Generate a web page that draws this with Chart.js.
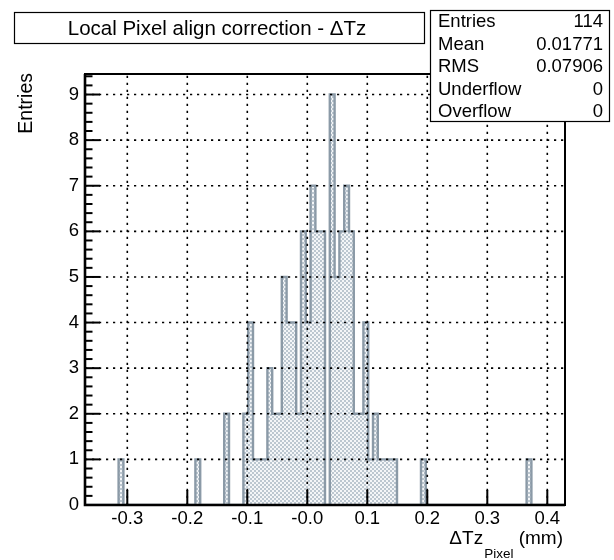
<!DOCTYPE html>
<html><head><meta charset="utf-8">
<script src="https://cdn.jsdelivr.net/npm/chart.js@4/dist/chart.umd.min.js"></script>
<style>html,body{margin:0;padding:0;background:#fff;} canvas{display:block;}</style>
</head><body>
<canvas id="c" width="614" height="560"></canvas>
<script>
// ---- data ----
const xRange = [-0.3705, 0.4295];
const binWidth = 0.008;
const binCounts = [
  0,0,0,0,0,0,0,1,0,0,
  0,0,0,0,0,0,0,0,0,0,
  0,0,0,1,0,0,0,0,0,2,
  0,0,0,2,4,1,1,1,3,2,
  2,5,4,4,2,6,4,7,6,6,
  0,9,5,6,7,6,2,2,4,1,
  2,1,1,1,1,0,0,0,0,0,
  1,0,0,0,0,0,0,0,0,0,
  0,0,0,0,0,0,0,0,0,0,
  0,0,1,0,0,0,0,0,0,0
];
const xTickValues = [-0.3, -0.2, -0.1, 0, 0.1, 0.2, 0.3, 0.4];
const xTickLabels = ['-0.3', '-0.2', '-0.1', '-0.0', '0.1', '0.2', '0.3', '0.4'];
const yTickValues = [0, 1, 2, 3, 4, 5, 6, 7, 8, 9];
const yTickLabels = ['0', '1', '2', '3', '4', '5', '6', '7', '8', '9'];
const yMax = 9.45;
const statsLabels = ['Entries', 'Mean', 'RMS', 'Underflow', 'Overflow'];
const statsValues = ['114', '0.01771', '0.07906', '0', '0'];
const titleText = 'Local Pixel align correction - \u0394Tz';
const xTitleMain = '\u0394Tz';
const xTitleSub = 'Pixel';
const xTitleUnit = ' (mm)';
const yTitle = 'Entries';

// ---- build histogram step points from bins ----
const histPoints = binCounts.map((c, k) => ({ x: xRange[0] + k * binWidth, y: c }));
histPoints.push({ x: xRange[0] + binCounts.length * binWidth, y: 0 });

// checker fill pattern
function makePattern() {
  const p = document.createElement('canvas');
  p.width = 4; p.height = 4;
  const g = p.getContext('2d');
  g.fillStyle = '#f4f6f8'; g.fillRect(0, 0, 4, 4);
  g.fillStyle = '#bcc7d0';
  g.fillRect(0, 0, 2, 2); g.fillRect(2, 2, 2, 2);
  return g.createPattern(p, 'repeat');
}

const FONT = 'Liberation Sans, Arial, Helvetica, sans-serif';

const rootDecor = {
  id: 'rootDecor',
  afterDatasetsDraw(chart) {
    const { ctx, chartArea: a, scales: { x, y } } = chart;
    ctx.save();
    // dotted grid
    ctx.strokeStyle = '#000';
    ctx.lineWidth = 1.6;
    ctx.setLineDash([2.2, 4.8]);
    xTickValues.forEach(v => {
      const px = x.getPixelForValue(v);
      ctx.beginPath(); ctx.moveTo(px, a.bottom); ctx.lineTo(px, a.top); ctx.stroke();
    });
    yTickValues.forEach(v => {
      if (v === 0) return;
      const py = y.getPixelForValue(v);
      ctx.beginPath(); ctx.moveTo(a.left, py); ctx.lineTo(a.right, py); ctx.stroke();
    });
    ctx.setLineDash([]);
    // tick marks (inside)
    ctx.lineWidth = 2;
    for (let v = 0; v <= yMax + 1e-9; v += 0.2) {
      const py = y.getPixelForValue(v);
      const major = Math.abs(v - Math.round(v)) < 1e-6;
      ctx.beginPath(); ctx.moveTo(a.left, py); ctx.lineTo(a.left + (major ? 15 : 7.5), py); ctx.stroke();
    }
    xTickValues.forEach(v => {
      const px = x.getPixelForValue(v);
      ctx.beginPath(); ctx.moveTo(px, a.bottom); ctx.lineTo(px, a.bottom - 15); ctx.stroke();
    });
    // frame
    ctx.lineWidth = 2;
    ctx.strokeRect(a.left, a.top, a.right - a.left, a.bottom - a.top);
    ctx.lineWidth = 2.6;
    ctx.beginPath();
    ctx.moveTo(a.left, a.top); ctx.lineTo(a.left, a.bottom); ctx.lineTo(a.right, a.bottom);
    ctx.stroke();

    // title box
    ctx.fillStyle = '#fff';
    ctx.fillRect(14.5, 12.5, 410, 31);
    ctx.lineWidth = 1.2;
    ctx.strokeStyle = '#000';
    ctx.strokeRect(14.5, 12.5, 410, 31);
    ctx.fillStyle = '#000';
    ctx.font = '20.5px ' + FONT;
    ctx.textAlign = 'center';
    ctx.textBaseline = 'alphabetic';
    ctx.fillText(titleText, 217, 35);

    // stats box
    ctx.fillStyle = '#fff';
    ctx.fillRect(430.5, 10.5, 179, 111);
    ctx.strokeRect(430.5, 10.5, 179, 111);
    ctx.fillStyle = '#000';
    ctx.font = '18.5px ' + FONT;
    statsLabels.forEach((lab, i) => {
      const by = 27 + 22.5 * i;
      ctx.textAlign = 'left';
      ctx.fillText(lab, 438, by);
      ctx.textAlign = 'right';
      ctx.fillText(statsValues[i], 603, by);
    });

    // y title
    ctx.save();
    ctx.translate(27, 73);
    ctx.rotate(-Math.PI / 2);
    ctx.textAlign = 'right';
    ctx.textBaseline = 'middle';
    ctx.font = '19.5px ' + FONT;
    ctx.fillText(yTitle, 0, 0);
    ctx.restore();

    // x title with subscript
    ctx.textAlign = 'left';
    ctx.textBaseline = 'alphabetic';
    ctx.font = '19px ' + FONT;
    const w1 = ctx.measureText(xTitleMain).width;
    const w3 = ctx.measureText(xTitleUnit).width;
    ctx.font = '13.5px ' + FONT;
    const w2 = ctx.measureText(xTitleSub).width;
    const endX = 563;
    const sx = endX - (w1 + 1 + w2 + w3);
    ctx.font = '19px ' + FONT;
    ctx.fillText(xTitleMain, sx, 544);
    ctx.font = '13.5px ' + FONT;
    ctx.fillText(xTitleSub, sx + w1 + 1, 558);
    ctx.font = '19px ' + FONT;
    ctx.fillText(xTitleUnit, sx + w1 + 1 + w2, 544);
    ctx.restore();
  }
};

new Chart(document.getElementById('c'), {
  type: 'line',
  data: {
    datasets: [{
      label: 'DeltaTz',
      data: histPoints,
      stepped: true,
      borderColor: '#8b9aa7',
      borderWidth: 2.4,
      backgroundColor: makePattern(),
      fill: 'origin',
      pointRadius: 0,
      tension: 0
    }]
  },
  options: {
    responsive: false,
    animation: false,
    layout: { padding: { left: 0, top: 74, right: 49, bottom: 0 } },
    plugins: { legend: { display: false }, tooltip: { enabled: false }, title: { display: false } },
    scales: {
      x: {
        type: 'linear',
        min: xRange[0], max: xRange[1],
        afterBuildTicks: s => { s.ticks = xTickValues.map(v => ({ value: v })); },
        afterFit: s => { s.height = 55; },
        ticks: {
          callback: (v, i) => xTickLabels[i],
          font: { family: FONT, size: 18.5 }, color: '#000',
          padding: 3, maxRotation: 0, autoSkip: false
        },
        grid: { display: false, drawTicks: false },
        border: { display: false }
      },
      y: {
        type: 'linear',
        min: 0, max: yMax,
        afterBuildTicks: s => { s.ticks = yTickValues.map(v => ({ value: v })); },
        afterFit: s => { s.width = 85; },
        ticks: {
          callback: (v, i) => yTickLabels[i],
          font: { family: FONT, size: 18.5 }, color: '#000',
          padding: 6, autoSkip: false
        },
        grid: { display: false, drawTicks: false },
        border: { display: false }
      }
    }
  },
  plugins: [rootDecor]
});
</script>
</body></html>
